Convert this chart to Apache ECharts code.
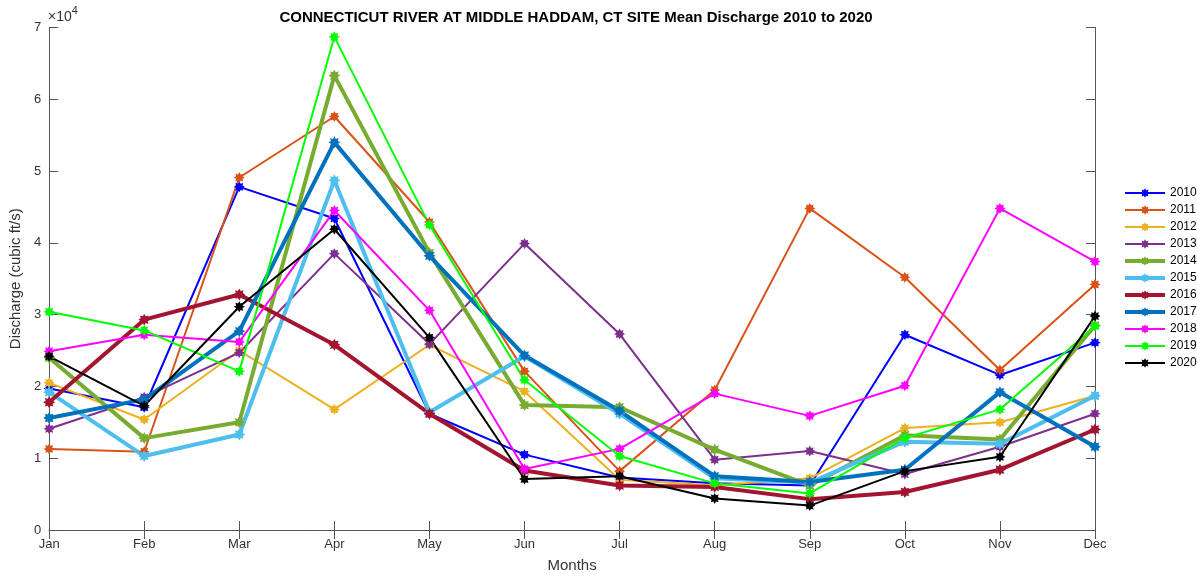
<!DOCTYPE html>
<html>
<head>
<meta charset="utf-8">
<style>
  html, body { margin: 0; padding: 0; background: #fff; }
  #chart { width: 1197px; height: 578px; }
</style>
<script src="https://cdn.jsdelivr.net/npm/echarts@6/dist/echarts.min.js"></script>
</head>
<body>
<div id="chart"></div>
<script>
// Monthly mean discharge (cubic ft/s), Connecticut River at Middle Haddam, CT
const months = ['Jan', 'Feb', 'Mar', 'Apr', 'May', 'Jun', 'Jul', 'Aug', 'Sep', 'Oct', 'Nov', 'Dec'];
const yTicks = [0, 1, 2, 3, 4, 5, 6, 7];

const q2010 = [19700, 17100, 47800, 43400, 16200, 10500, 7300, 6500, 6200, 27200, 21600, 26100];
const q2011 = [11300, 10900, 49100, 57600, 42900, 22100, 8200, 19500, 44800, 35200, 22300, 34200];
const q2012 = [20500, 15400, 25000, 16800, 25800, 19300, 7000, 6200, 7200, 14200, 15000, 18700];
const q2013 = [14100, 18500, 24700, 38500, 25900, 39900, 27300, 9800, 11000, 7800, 11600, 16200];
const q2014 = [24000, 12800, 15000, 63300, 38600, 17400, 17100, 11200, 6200, 13200, 12600, 28500];
const q2015 = [19200, 10300, 13300, 48700, 16400, 24200, 16200, 7200, 6600, 12300, 12000, 18700];
const q2016 = [17800, 29300, 32800, 25800, 16200, 8300, 6200, 6000, 4300, 5300, 8400, 14000];
const q2017 = [15600, 18200, 27700, 54000, 38200, 24300, 16600, 7500, 6700, 8400, 19200, 11600];
const q2018 = [24900, 27200, 26200, 44500, 30600, 8500, 11300, 19000, 15900, 20100, 44800, 37400];
const q2019 = [30400, 27800, 22100, 68700, 42500, 20900, 10300, 6500, 5100, 12800, 16800, 28400];
const q2020 = [24200, 17300, 31100, 41900, 26800, 7100, 7500, 4400, 3400, 8200, 10200, 29800];

const years = [
  { name: '2010', data: q2010, color: '#0000FF', width: 2 },
  { name: '2011', data: q2011, color: '#D95319', width: 2 },
  { name: '2012', data: q2012, color: '#EDB120', width: 2 },
  { name: '2013', data: q2013, color: '#7E2F8E', width: 2 },
  { name: '2014', data: q2014, color: '#77AC30', width: 4 },
  { name: '2015', data: q2015, color: '#4DBEEE', width: 4 },
  { name: '2016', data: q2016, color: '#A2142F', width: 4 },
  { name: '2017', data: q2017, color: '#0072BD', width: 4 },
  { name: '2018', data: q2018, color: '#FF00FF', width: 2 },
  { name: '2019', data: q2019, color: '#00FF00', width: 2 },
  { name: '2020', data: q2020, color: '#000000', width: 2 }
];

// eight-pointed star used as the point marker
function starPath(points, outer, inner) {
  let d = '';
  for (let i = 0; i < points * 2; i++) {
    const r = i % 2 === 0 ? outer : inner;
    const a = Math.PI * i / points - Math.PI / 2;
    d += (i === 0 ? 'M' : 'L') + (r * Math.cos(a)).toFixed(3) + ',' + (r * Math.sin(a)).toFixed(3) + ' ';
  }
  return 'path://' + d + 'Z';
}
const marker = starPath(8, 1, 0.62);

const FONT = '"Liberation Sans", Arial, Helvetica, sans-serif';
const AXIS_COLOR = '#555';
const TEXT_COLOR = '#333';

const chart = echarts.init(document.getElementById('chart'));

chart.setOption({
  animation: false,
  textStyle: { fontFamily: FONT },
  title: {
    text: 'CONNECTICUT RIVER AT MIDDLE HADDAM, CT SITE Mean Discharge 2010 to 2020',
    left: 571,
    textAlign: 'center',
    top: 5,
    textStyle: { fontSize: 15, fontWeight: 'bold', color: '#000', fontFamily: FONT }
  },
  legend: {
    orient: 'vertical',
    left: 1123,
    top: 187,
    padding: 0,
    itemWidth: 40,
    itemHeight: 12,
    itemGap: 5,
    textStyle: { fontSize: 12, color: '#000', fontFamily: FONT },
    data: years.map(y => ({
      name: y.name,
      lineStyle: { width: y.width, color: y.color },
      itemStyle: { color: y.color }
    }))
  },
  grid: { left: 47, right: 102, top: 27.5, bottom: 46.5, containLabel: false },
  xAxis: [
    {
      type: 'category',
      data: months,
      boundaryGap: false,
      name: 'Months',
      nameLocation: 'middle',
      nameGap: 28,
      nameTextStyle: { fontSize: 15, color: TEXT_COLOR },
      axisLine: { lineStyle: { color: AXIS_COLOR, width: 1 } },
      axisTick: { inside: true, length: 9, lineStyle: { color: AXIS_COLOR } },
      axisLabel: { fontSize: 13, color: TEXT_COLOR, margin: 8 },
      splitLine: { show: false }
    },
    {
      type: 'category',
      data: months,
      boundaryGap: false,
      position: 'top',
      axisLine: { show: true, lineStyle: { color: AXIS_COLOR, width: 1 } },
      axisTick: { inside: true, length: 9, lineStyle: { color: AXIS_COLOR } },
      axisLabel: { show: false },
      splitLine: { show: false }
    }
  ],
  yAxis: [
    {
      type: 'value',
      min: 0,
      max: 70000,
      interval: 10000,
      name: 'Discharge (cubic ft/s)',
      nameLocation: 'middle',
      nameGap: 19,
      nameTextStyle: { fontSize: 15, color: TEXT_COLOR },
      axisLine: { show: true, lineStyle: { color: AXIS_COLOR, width: 1 } },
      axisTick: { show: true, inside: true, length: 9, lineStyle: { color: AXIS_COLOR } },
      axisLabel: {
        fontSize: 13,
        color: TEXT_COLOR,
        margin: 8,
        formatter: v => String(yTicks[Math.round(v / 10000)])
      },
      splitLine: { show: false }
    },
    {
      type: 'value',
      min: 0,
      max: 70000,
      interval: 10000,
      position: 'right',
      axisLine: { show: true, lineStyle: { color: AXIS_COLOR, width: 1 } },
      axisTick: { show: true, inside: true, length: 9, lineStyle: { color: AXIS_COLOR } },
      axisLabel: { show: false },
      splitLine: { show: false }
    }
  ],
  graphic: [
    {
      type: 'text',
      left: 48,
      top: 5,
      style: {
        text: '{a|×10}{b|4}',
        rich: {
          a: { fontSize: 14, fill: TEXT_COLOR, fontFamily: FONT, padding: [7, 0, 0, 0] },
          b: { fontSize: 11, fill: TEXT_COLOR, fontFamily: FONT, padding: [0, 0, 6, 0] }
        }
      }
    }
  ],
  series: years.map(y => ({
    name: y.name,
    type: 'line',
    xAxisIndex: 0,
    yAxisIndex: 0,
    data: y.data,
    symbol: marker,
    symbolSize: y.width > 2 ? 12 : 11,
    showSymbol: true,
    lineStyle: { color: y.color, width: y.width },
    itemStyle: { color: y.color, borderWidth: 0 },
    emphasis: { disabled: true }
  }))
});
</script>
</body>
</html>
